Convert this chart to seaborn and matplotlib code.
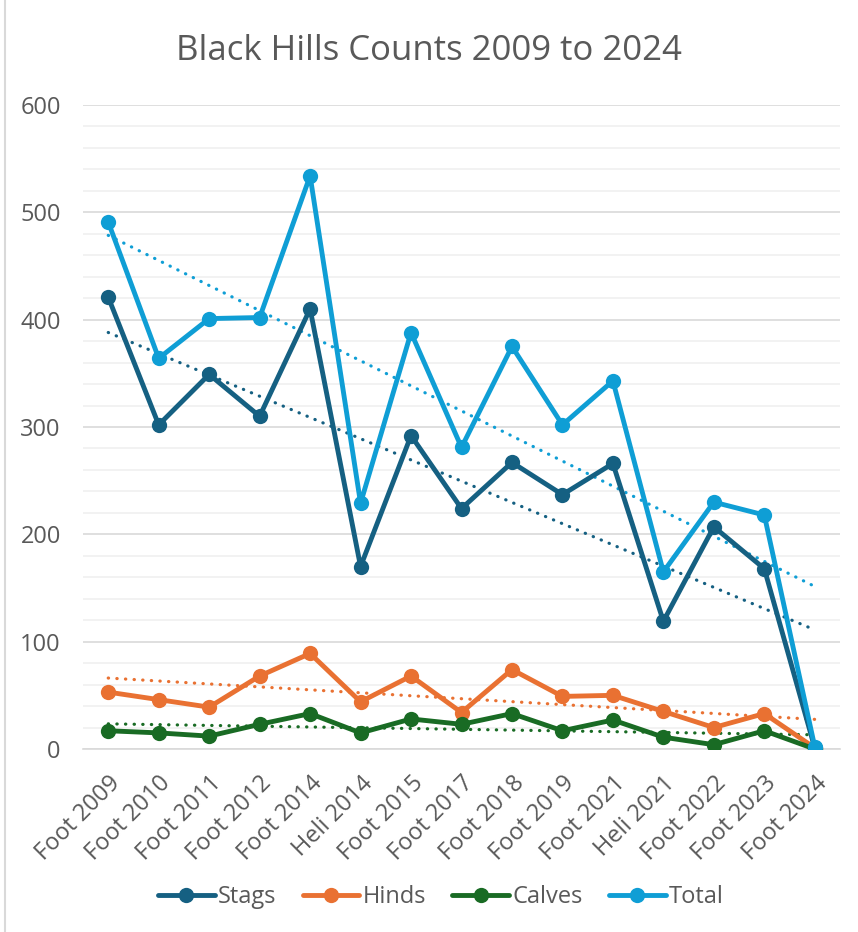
import numpy as np
import pandas as pd
import matplotlib
matplotlib.use("Agg")
import matplotlib.pyplot as plt
import seaborn as sns
from matplotlib.ticker import MultipleLocator
from matplotlib.lines import Line2D

# counts
surveys = ['Foot 2009', 'Foot 2010', 'Foot 2011', 'Foot 2012', 'Foot 2014',
           'Heli 2014', 'Foot 2015', 'Foot 2017', 'Foot 2018', 'Foot 2019',
           'Foot 2021', 'Heli 2021', 'Foot 2022', 'Foot 2023', 'Foot 2024']
stags = [421, 302, 349, 310, 410, 170, 292, 224, 267, 237, 266, 119, 207, 168, 1]
hinds = [53, 46, 39, 68, 89, 44, 68, 34, 74, 49, 50, 35, 20, 33, 1]
calves = [17, 15, 12, 23, 33, 15, 28, 23, 33, 17, 27, 11, 4, 17, 0]
total = [491, 364, 401, 402, 534, 229, 388, 281, 375, 302, 343, 165, 230, 218, 2]

SERIES = [('Stags', stags, '#156082'),
          ('Hinds', hinds, '#E97132'),
          ('Calves', calves, '#196B24'),
          ('Total', total, '#0F9ED5')]
TEXT_GREY = '#595959'


def main():
    sns.set_style('white')
    plt.rcParams['font.family'] = ['Open Sans', 'DejaVu Sans']

    fig = plt.figure(figsize=(8.58, 9.32), dpi=100)
    ax = fig.add_axes([83 / 858, 1 - 749 / 932, (840 - 83) / 858, (749 - 105) / 932])

    x = np.arange(len(surveys))

    # dotted linear trendlines first, underneath the series
    for name, vals, color in SERIES:
        df = pd.DataFrame({'x': x, 'y': vals})
        sns.regplot(data=df, x='x', y='y', ax=ax, scatter=False, ci=None,
                    color=color,
                    line_kws=dict(linestyle=(0, (0.1, 2.6)), linewidth=2.3,
                                  dash_capstyle='round', zorder=2))

    for name, vals, color in SERIES:
        df = pd.DataFrame({'x': x, 'y': vals})
        sns.lineplot(data=df, x='x', y='y', ax=ax, color=color, label=name,
                     linewidth=3.5, marker='o', markersize=11,
                     markeredgewidth=0, zorder=3)

    ax.set_xlim(-0.5, len(surveys) - 0.5)
    ax.set_ylim(0, 600)
    ax.yaxis.set_major_locator(MultipleLocator(100))
    ax.yaxis.set_minor_locator(MultipleLocator(20))
    ax.grid(which='major', axis='y', color='#D9D9D9', linewidth=1.2)
    ax.grid(which='minor', axis='y', color='#F0F0F0', linewidth=1.2)
    ax.set_axisbelow(True)
    for s in ['top', 'right', 'left']:
        ax.spines[s].set_visible(False)
    ax.spines['bottom'].set_color('#D9D9D9')
    ax.spines['bottom'].set_linewidth(1.2)

    ax.set_xticks(x)
    ax.set_xticklabels(surveys, rotation=45, ha='right', rotation_mode='anchor')
    ax.tick_params(axis='both', which='both', length=0, labelsize=17,
                   labelcolor=TEXT_GREY)
    ax.tick_params(axis='y', pad=16)
    ax.tick_params(axis='x', pad=16)
    ax.set_xlabel('')
    ax.set_ylabel('')

    fig.text(0.5, 1 - 51 / 932, 'Black Hills Counts 2009 to 2024', ha='center',
             va='center', fontsize=25, color=TEXT_GREY)

    ax.legend_.remove()
    handles, labels = ax.get_legend_handles_labels()
    leg = fig.legend(handles[-4:], labels[-4:], loc='center',
                     bbox_to_anchor=(441 / 858, 1 - 897 / 932), ncol=4,
                     frameon=False, fontsize=17, handlelength=2.4,
                     columnspacing=1.1, handletextpad=0.15)
    for t in leg.get_texts():
        t.set_color(TEXT_GREY)

    # chart area border on the left edge
    fig.add_artist(Line2D([5 / 858, 5 / 858], [0, 1], color='#D9D9D9',
                          linewidth=1.5, transform=fig.transFigure))

    fig.savefig('out.png', dpi=100)


if __name__ == "__main__":
    main()
